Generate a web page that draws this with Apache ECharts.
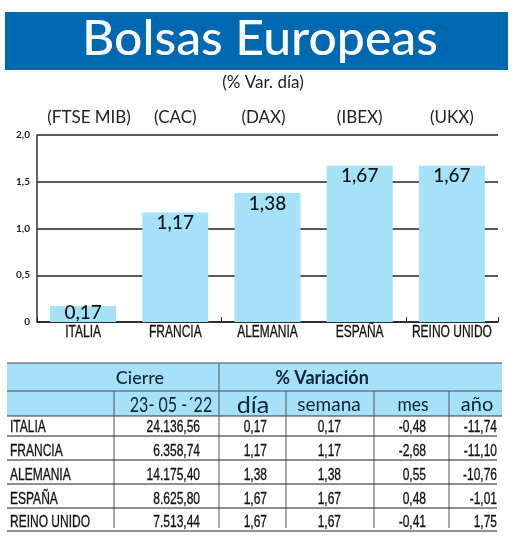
<!DOCTYPE html>
<html>
<head>
<meta charset="utf-8">
<title>Bolsas Europeas</title>
<style>
    html, body { margin: 0; padding: 0; background: #fff; }
    #chart { width: 520px; height: 539px; }
</style>
<script src="https://cdn.jsdelivr.net/npm/echarts@6/dist/echarts.min.js"></script>
</head>
<body>
<div id="chart"></div>
<script>
// datos del grafico
const countries = ['ITALIA', 'FRANCIA', 'ALEMANIA', 'ESPAÑA', 'REINO UNIDO'];
const tickers = ['(FTSE MIB)', '(CAC)', '(DAX)', '(IBEX)', '(UKX)'];
const dayValues = [0.17, 1.17, 1.38, 1.67, 1.67];
const axisTicks = [0, 0.5, 1, 1.5, 2];

// datos de la tabla
const closeDate = '23- 05 -´22';
const closeValues = ['24.136,56', '6.358,74', '14.175,40', '8.625,80', '7.513,44'];
const weekValues = ['0,17', '1,17', '1,38', '1,67', '1,67'];
const monthValues = ['-0,48', '-2,68', '0,55', '0,48', '-0,41'];
const yearValues = ['-11,74', '-11,10', '-10,76', '-1,01', '1,75'];

const PLAIN = '"Liberation Sans", sans-serif';
const HUMANIST = 'Lato, "Open Sans", sans-serif';
const BAR_COLOR = '#a5e1f9';
const NARROW_SCALE = 0.75;

function comma(v, digits) {
    return v.toFixed(digits).replace('.', ',');
}

function text(x, y, str, font, size, opts) {
    const o = opts || {};
    const style = {
        text: str,
        fill: o.color || '#111',
        font: (o.weight || 'normal') + ' ' + size + 'px ' + font,
        textAlign: o.align || 'left',
        textVerticalAlign: 'middle'
    };
    // trazo fino para dar mas cuerpo a la letra estrecha
    if (o.heavy) {
        style.stroke = style.fill;
        style.lineWidth = o.heavy;
    }
    return {
        type: 'text',
        x: x,
        y: y,
        scaleX: o.scaleX || 1,
        silent: true,
        z: 5,
        style: style
    };
}

function line(x1, y1, x2, y2, color, width) {
    return {
        type: 'line',
        silent: true,
        z: 4,
        shape: { x1: x1, y1: y1, x2: x2, y2: y2 },
        style: { stroke: color, lineWidth: width || 1 }
    };
}

function rect(x, y, w, h, color) {
    return {
        type: 'rect',
        silent: true,
        z: 1,
        shape: { x: x, y: y, width: w, height: h },
        style: { fill: color }
    };
}

// cabecera y tabla van como elementos graphic
function buildGraphic(chart) {
    const items = [];
    const rowLines = [436, 460, 484, 508, 531];
    const colRight = [200, 267, 341, 426, 497];
    const narrow = { scaleX: NARROW_SCALE, heavy: 0.3 };

    items.push(rect(5, 12, 503, 58, '#0068b1'));
    items.push(text(260, 40, 'Bolsas Europeas', HUMANIST, 48, { color: '#fff', align: 'center', scaleX: 1.04, weight: 500 }));
    items.push(text(263, 83, '(% Var. día)', HUMANIST, 17, { color: '#222', align: 'center' }));

    // nombres de pais bajo el eje, estrechados como en el original
    countries.forEach(function(name, i) {
        const x = chart.convertToPixel({ xAxisIndex: 0 }, name);
        items.push(text(x, 333, name, PLAIN, 16, { align: 'center', scaleX: NARROW_SCALE, heavy: 0.3 }));
    });

    items.push(rect(7, 363, 495, 53, BAR_COLOR));
    items.push(line(7, 363, 502, 363, '#446', 1));
    items.push(line(7, 391, 502, 391, '#446', 1));
    items.push(line(7, 416, 502, 416, '#333', 1));
    items.push(line(219, 363, 219, 528, '#555', 1));
    [114, 286, 374, 449].forEach(function(x) {
        items.push(line(x, 391, x, 528, '#555', 1));
    });

    items.push(text(140, 378, 'Cierre', HUMANIST, 18, { align: 'center', color: '#123', weight: 500 }));
    items.push(text(322, 378, '% Variación', HUMANIST, 18, { align: 'center', color: '#123', weight: 'bold' }));
    items.push(text(171, 405, closeDate, HUMANIST, 22, { align: 'center', color: '#123', scaleX: 0.73 }));
    items.push(text(253, 405, 'día', HUMANIST, 24, { align: 'center', color: '#123', scaleX: 1.05 }));
    items.push(text(329, 405, 'semana', HUMANIST, 19, { align: 'center', color: '#123' }));
    items.push(text(413, 405, 'mes', HUMANIST, 20, { align: 'center', color: '#123', scaleX: 0.87 }));
    items.push(text(477, 405, 'año', HUMANIST, 20, { align: 'center', color: '#123' }));

    countries.forEach(function(name, i) {
        const y = rowLines[i] - 8;
        const cols = [closeValues[i], comma(dayValues[i], 2), weekValues[i], monthValues[i], yearValues[i]];
        items.push(line(7, rowLines[i], 497, rowLines[i], '#222', 1));
        items.push(text(10, y, name, PLAIN, 16, narrow));
        cols.forEach(function(v, c) {
            items.push(text(colRight[c], y, v, PLAIN, 16, { align: 'right', scaleX: NARROW_SCALE, heavy: 0.3 }));
        });
    });
    return items;
}

function initChart() {
    const chart = echarts.init(document.getElementById('chart'));

    const option = {
        animation: false,
        backgroundColor: '#fff',
        grid: { left: 37, right: 22, top: 135, height: 187 },
        xAxis: [{
            type: 'category',
            data: countries,
            axisLine: { lineStyle: { color: '#222', width: 1.5 } },
            axisTick: { show: true, inside: true, length: 5, lineStyle: { color: '#222' } },
            axisLabel: { show: false }
        }, {
            type: 'category',
            position: 'top',
            // FTSE MIB y DAX no estan centrados sobre su barra en el original
            data: tickers.map(function(t) {
                if (t === '(FTSE MIB)') return { value: t, textStyle: { padding: [0, 0, 0, 12] } };
                if (t === '(DAX)') return { value: t, textStyle: { padding: [0, 8, 0, 0] } };
                return t;
            }),
            axisLine: { show: false },
            axisTick: { show: false },
            axisLabel: { margin: 9, color: '#222', fontFamily: HUMANIST, fontSize: 17, interval: 0 }
        }],
        yAxis: {
            type: 'value',
            min: axisTicks[0],
            max: axisTicks[axisTicks.length - 1],
            interval: axisTicks[1],
            axisLine: { show: true, lineStyle: { color: '#333', width: 1.5 } },
            axisTick: { show: false },
            splitLine: { lineStyle: { color: '#222', width: 1.5 } },
            axisLabel: {
                margin: 7,
                color: '#222',
                fontFamily: HUMANIST,
                fontSize: 10,
                fontWeight: 'bold',
                formatter: function(v) {
                    return v === 0 ? '0' : comma(v, 1);
                }
            }
        },
        series: [{
            type: 'bar',
            // la barra de Italia es baja: su etiqueta sube un poco
            data: dayValues.map(function(v) {
                return v < 0.5 ? { value: v, label: { offset: [0, -4] } } : v;
            }),
            barWidth: 66,
            itemStyle: { color: BAR_COLOR },
            z: 3,
            label: {
                show: true,
                position: 'insideTop',
                distance: 1,
                color: '#111',
                fontFamily: HUMANIST,
                fontSize: 19,
                fontWeight: 500,
                formatter: function(p) {
                    return comma(p.value, 2);
                }
            }
        }]
    };

    chart.setOption(option);
    // los textos del eje necesitan la escala ya calculada
    chart.setOption({ graphic: buildGraphic(chart) });
}

document.addEventListener('DOMContentLoaded', initChart);
</script>
</body>
</html>
